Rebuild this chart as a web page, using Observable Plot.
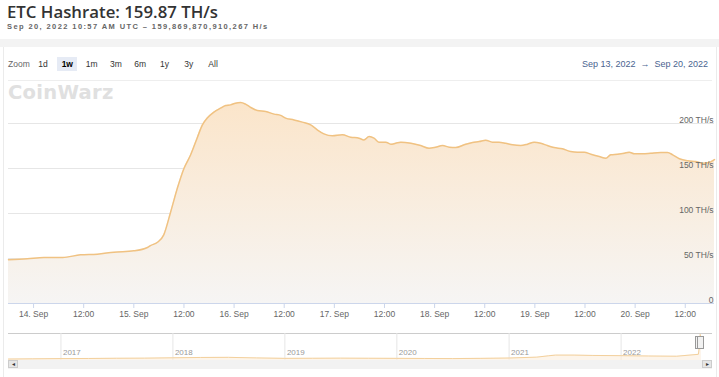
<!DOCTYPE html>
<html><head><meta charset="utf-8">
<script src="https://cdn.jsdelivr.net/npm/d3@7"></script>
<script src="https://cdn.jsdelivr.net/npm/@observablehq/plot@0.6"></script>
<style>
html,body{margin:0;padding:0;background:#fff;width:719px;height:377px;overflow:hidden;font-family:"Liberation Sans",Arial,sans-serif}
body{position:relative}
.abs{position:absolute;white-space:nowrap}
#title{left:7px;top:0px;font-family:"Open Sans",sans-serif;font-weight:600;font-size:16.8px;color:#333}
#sub{left:7px;top:22px;font-size:7.5px;font-weight:bold;letter-spacing:1.4px;color:#666}
#band{left:0;top:39px;width:719px;height:8px;background:#f3f3f3}
#card{left:3px;top:47px;width:712px;height:330px;border-left:1px solid #ebebeb;border-right:1px solid #ebebeb;background:#fff}
.btn{top:57px;height:14px;line-height:14px;width:20px;text-align:center;font-size:8.5px;color:#333}
#zoomlbl{left:8px;top:57px;line-height:14px;font-size:8.5px;color:#666}
.sel{background:#e6ebf5;font-weight:bold;color:#000}
#range{right:11px;top:57px;line-height:14px;font-size:9px;color:#4a6390}
#sep{left:8px;top:80px;width:704px;height:1px;background:#eeeeee}
#logo{left:8px;top:81px;font-family:"DejaVu Sans",sans-serif;font-weight:bold;font-size:19.5px;color:#e0e0e0;letter-spacing:0.3px}
#main{left:0;top:77px}
#navtop{left:8px;top:333px;width:704px;height:1px;background:#cccccc}
#nav{left:0;top:333px}
#track{left:8px;top:360px;width:704px;height:8px;background:#f2f2f2;border-top:1px solid #f2f2f2}
.sbtn{top:360px;width:10px;height:8px;background:#e6e6e6;border:1px solid #cccccc;box-sizing:border-box;font-size:6px;line-height:6px;text-align:center;color:#333}
.handle{top:336px;width:7px;height:13px;background:#f2f2f2;border:1px solid #999;box-sizing:border-box}
</style></head><body>
<div id="card" class="abs"></div>
<div id="band" class="abs"></div>
<div id="title" class="abs">ETC Hashrate: 159.87 TH/s</div>
<div id="sub" class="abs">Sep 20, 2022 10:57 AM UTC – 159,869,870,910,267 H/s</div>
<div id="zoomlbl" class="abs">Zoom</div>
<div id="range" class="abs">Sep 13, 2022 &nbsp;→&nbsp; Sep 20, 2022</div>
<div id="sep" class="abs"></div>
<div id="logo" class="abs">CoinWarz</div>
<div id="navtop" class="abs"></div>
<div id="track" class="abs"></div>
<script>
// ---- main series (chart clock, as displayed on the axis) ----
const times = [
"2022-09-13T18:00","2022-09-13T22:30","2022-09-14T02:30","2022-09-14T07:00","2022-09-14T11:15",
"2022-09-14T15:15","2022-09-14T19:15","2022-09-15T00:00","2022-09-15T03:15","2022-09-15T04:00",
"2022-09-15T05:40","2022-09-15T07:10","2022-09-15T08:50","2022-09-15T10:25","2022-09-15T12:00",
"2022-09-15T13:35","2022-09-15T15:10","2022-09-15T16:25","2022-09-15T17:35","2022-09-15T19:10",
"2022-09-15T20:45","2022-09-15T22:00","2022-09-15T23:10","2022-09-16T00:20","2022-09-16T01:35",
"2022-09-16T02:45","2022-09-16T04:00","2022-09-16T05:35","2022-09-16T07:35","2022-09-16T09:35",
"2022-09-16T11:10","2022-09-16T12:20","2022-09-16T14:20","2022-09-16T16:20","2022-09-16T18:20",
"2022-09-16T19:55","2022-09-16T21:30","2022-09-16T23:30","2022-09-17T01:55","2022-09-17T03:55",
"2022-09-17T05:55","2022-09-17T07:05","2022-09-17T08:20","2022-09-17T09:30","2022-09-17T10:40",
"2022-09-17T12:20","2022-09-17T13:30","2022-09-17T14:40","2022-09-17T15:55","2022-09-17T18:20",
"2022-09-17T20:40","2022-09-17T22:40","2022-09-18T00:15","2022-09-18T01:55","2022-09-18T03:30",
"2022-09-18T05:05","2022-09-18T07:05","2022-09-18T09:05","2022-09-18T10:40","2022-09-18T12:15",
"2022-09-18T13:50","2022-09-18T15:25","2022-09-18T17:00","2022-09-18T18:40","2022-09-18T20:35",
"2022-09-18T22:15","2022-09-18T23:50","2022-09-19T01:25","2022-09-19T03:00","2022-09-19T04:35",
"2022-09-19T06:35","2022-09-19T08:35","2022-09-19T10:10","2022-09-19T11:50","2022-09-19T13:25",
"2022-09-19T15:25","2022-09-19T17:00","2022-09-19T18:10","2022-09-19T19:50","2022-09-19T21:25",
"2022-09-19T22:35","2022-09-19T23:50","2022-09-20T01:50","2022-09-20T03:45","2022-09-20T06:10",
"2022-09-20T07:45","2022-09-20T09:00","2022-09-20T10:35","2022-09-20T12:35","2022-09-20T14:30",
"2022-09-20T16:05","2022-09-20T17:45","2022-09-20T18:30","2022-09-20T19:00"
];
const hashrate = [
48.6,49.7,51.1,51.1,54.1,
54.8,57.0,58.5,62.2,64.4,
68.0,76.3,102,128,150,
165,184,198.5,206,212.6,
217,220,220.7,222.6,223.3,
221.5,217.8,214.4,213.3,210.4,
209,206,204,201.5,198.5,
193,188.5,186.3,187.4,184.8,
183.7,181.8,185.5,183.7,179.2,
179.2,177,178,179.2,178,
175.5,172.6,173.7,175.5,173.7,
173.3,176.3,178.9,180,181.5,
179.2,179.2,178,176.3,175.5,
177,179.2,178,175.5,173.3,
171.9,168.9,168.1,168.1,165.9,
163.3,161.4,165.2,165.9,167,
168.1,166.3,166.3,167,167.8,
167.8,165.2,160.8,158.5,157.8,
155.9,156.7,158.5,159.9
];
const xDomain = ["2022-09-13T18:00", "2022-09-20T19:00"];
const yTicks = [0, 50, 100, 150, 200];
const zoomButtons = ["1d", "1w", "1m", "3m", "6m", "1y", "3y", "All"];
const selectedButton = "1w";
// ---- navigator series (full history, TH/s) ----
const navDates = ["2016-07-14","2016-10-01","2017-01-01","2017-04-01","2017-07-01","2017-10-01",
"2018-01-01","2018-04-01","2018-07-01","2018-10-01","2019-01-01","2019-04-01","2019-07-01","2019-10-01",
"2020-01-01","2020-04-01","2020-07-01","2020-10-01","2021-01-01","2021-04-01","2021-05-10","2021-06-01",
"2021-08-01","2021-10-01","2022-01-01","2022-04-01","2022-07-01","2022-09-10","2022-09-15","2022-09-16","2022-09-20"];
const navValues = [3,5,7,8,10,11,14,17,18,13,9,10,11,10,9,8,7,9,12,20,32,38,38,35,33,30,28,45,150,222,160];
const navDomain = ["2016-07-14", "2022-10-26"];
const navYears = [2017, 2018, 2019, 2020, 2021, 2022];
const selRange = ["2022-09-13", "2022-09-20"];

// zoom buttons
zoomButtons.forEach((b, i) => {
  const el = document.createElement("div");
  el.className = "abs btn" + (b === selectedButton ? " sel" : "");
  el.style.left = (33 + i * 24.3) + "px";
  el.textContent = b;
  document.body.appendChild(el);
});

const data = times.map((t, i) => ({date: new Date(t + "Z"), value: hashrate[i]}));

function gradientDefs() {
  const defs = d3.create("svg:defs");
  const g = defs.append("linearGradient").attr("id", "areaGrad")
    .attr("x1", 0).attr("x2", 0).attr("y1", 0).attr("y2", 1);
  g.append("stop").attr("offset", "0%").attr("stop-color", "#fbe5ca");
  g.append("stop").attr("offset", "100%").attr("stop-color", "#f6f5f4");
  return defs.node();
}

const main = Plot.plot({
  width: 719, height: 256,
  marginTop: 1, marginBottom: 30, marginLeft: 8, marginRight: 5,
  style: {background: "transparent", fontFamily: "'Liberation Sans', Arial, sans-serif", fontSize: "8.5px", color: "#666", overflow: "visible"},
  x: {type: "utc", domain: xDomain.map(d => new Date(d + "Z"))},
  y: {domain: [0, 250]},
  marks: [
    gradientDefs,
    Plot.gridY(yTicks.filter(d => d > 0), {stroke: "#e6e6e6", strokeOpacity: 1}),
    Plot.areaY(data, {x: "date", y: "value", fill: "url(#areaGrad)", curve: "monotone-x"}),
    Plot.lineY(data, {x: "date", y: "value", stroke: "#f0c282", strokeWidth: 1.5, curve: "monotone-x"}),
    Plot.ruleY([0], {stroke: "#ccd6eb"}),
    Plot.axisX({ticks: d3.utcHour.every(12), tickSize: 5, tickPadding: 2, stroke: "#ccd6eb", label: null,
      tickFormat: d => d.getUTCHours() === 0 ? `${d.getUTCDate()}. Sep` : "12:00"}),
    Plot.axisY(yTicks, {anchor: "right", tickSize: 0, tickPadding: 0, textAnchor: "end", dx: -1, dy: -3, label: null,
      tickFormat: d => d === 0 ? "0" : `${d} TH/s`})
  ]
});
main.id = "main"; main.classList.add("abs");
document.body.appendChild(main);

const navData = navDates.map((d, i) => ({date: new Date(d), value: navValues[i]}));
const yearDates = navYears.map(y => new Date(Date.UTC(y, 0, 1)));
const nav = Plot.plot({
  width: 719, height: 44,
  marginTop: 0, marginBottom: 17, marginLeft: 8, marginRight: 7,
  style: {background: "transparent", fontFamily: "'Liberation Sans', Arial, sans-serif", fontSize: "8px", color: "#999", overflow: "visible"},
  x: {type: "utc", domain: navDomain.map(d => new Date(d)), axis: null},
  y: {domain: [-10, 230], axis: null},
  marks: [
    Plot.ruleX(yearDates, {stroke: "#e6e6e6"}),
    Plot.areaY(navData, {x: "date", y1: -10, y2: "value", fill: "#fbeedd", fillOpacity: 0.6}),
    Plot.lineY(navData, {x: "date", y: "value", stroke: "#f3d09c", strokeWidth: 1}),
    Plot.text(yearDates, {x: d => d, text: d => String(d.getUTCFullYear()), frameAnchor: "bottom", dy: -6, dx: 2, textAnchor: "start", fill: "#999"})
  ]
});
nav.id = "nav"; nav.classList.add("abs");
document.body.appendChild(nav);

// scrollbar buttons
[["left", 8, "◂"], ["right", 702, "▸"]].forEach(([k, x, ch]) => {
  const el = document.createElement("div");
  el.className = "abs sbtn"; el.style.left = x + "px"; el.textContent = ch;
  document.body.appendChild(el);
});
// navigator handles at the selected range
const nx = nav.scale("x");
selRange.forEach(d => {
  const el = document.createElement("div");
  el.className = "abs handle";
  el.style.left = (nx.apply(new Date(d)) - 3.5) + "px";
  document.body.appendChild(el);
});
</script>
</body></html>
